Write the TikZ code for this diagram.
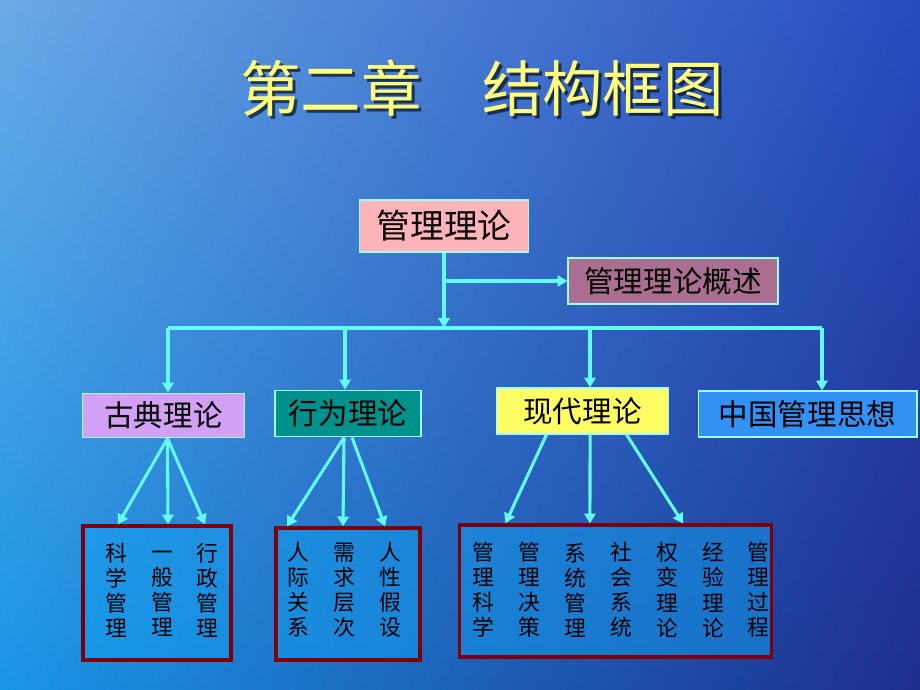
\documentclass[tikz,border=0pt]{standalone}
\usepackage{fontspec}
\newfontfamily\cjk{Noto Sans CJK SC}
\usetikzlibrary{arrows.meta}
\usetikzlibrary{calc}
\usetikzlibrary{positioning}
\usetikzlibrary{shadings}
\usepackage{xcolor}

\definecolor{linkcyan}{RGB}{100,250,250}
\definecolor{groupred}{RGB}{125,0,10}
\definecolor{groupfill}{RGB}{20,160,240}
\definecolor{titleyellow}{RGB}{255,255,125}
\definecolor{rootpink}{RGB}{255,180,185}
\definecolor{overmauve}{RGB}{170,110,145}
\definecolor{classiclilac}{RGB}{210,160,245}
\definecolor{behavteal}{RGB}{0,145,140}
\definecolor{modernyellow}{RGB}{255,255,100}
\definecolor{chinablue}{RGB}{50,145,245}
\definecolor{bgul}{RGB}{105,170,230}
\definecolor{bgur}{RGB}{40,75,190}
\definecolor{bgll}{RGB}{25,150,230}
\definecolor{bglr}{RGB}{30,45,140}

\tikzset{
  theory/.style={draw=linkcyan!60!white, line width=0.8pt, text=black, inner sep=0pt,
    font=\cjk\fontsize{21}{25}\selectfont},
  link/.style={linkcyan, line width=2.2pt, -{Triangle[width=8pt,length=7pt]}},
  column/.style={align=center, inner sep=0pt, font=\cjk\fontsize{15.5}{17.8}\selectfont},
  group/.style={draw=groupred, line width=2.3pt, fill=groupfill, fill opacity=0.5},
}

\begin{document}
\begin{tikzpicture}[x=0.025cm,y=-0.025cm]
    \useasboundingbox (0,0) rectangle (920,690);
    \shade[upper left=bgul, upper right=bgur, lower left=bgll, lower right=bglr]
      (0,0) rectangle (920,690);

    % title
    \node[text=black, opacity=0.6, font=\cjk\fontsize{43}{50}\selectfont] at (485,91) {第二章　结构框图};
    \node[text=titleyellow, font=\cjk\fontsize{43}{50}\selectfont] (title) at (482,88) {第二章　结构框图};

    % theory boxes
    \node[theory, fill=rootpink, font=\cjk\fontsize{24}{28}\selectfont,
      minimum width=4.22cm, minimum height=1.3cm] (root) at (444,226) {管理理论};
    \node[theory, fill=overmauve, minimum width=5.25cm, minimum height=1.15cm] (over) at (673,281) {管理理论概述};
    \node[theory, fill=classiclilac, minimum width=4.07cm, minimum height=1.12cm] (classic) at (163.5,415.5) {古典理论};
    \node[theory, fill=behavteal, minimum width=3.65cm, minimum height=1.17cm] (behav) at (348,413.5) {行为理论};
    \node[theory, fill=modernyellow, minimum width=4.32cm, minimum height=1.15cm] (modern) at (582.5,411) {现代理论};
    \node[theory, fill=chinablue, minimum width=5.47cm, minimum height=1.15cm] (china) at (807.5,414) {中国管理思想};

    % lower groups
    \node[group, minimum width=3.7cm, minimum height=3.35cm] (g1) at (157,593) {};
    \node[group, minimum width=3.6cm, minimum height=3.3cm] (g2) at (348,594) {};
    \node[group, minimum width=7.78cm, minimum height=3.3cm] (g3) at (615.5,591) {};

    \node[column] (c11) at (116,590) {科\\学\\管\\理};
    \node[column] (c12) at (162,590) {\vphantom{理}一\\般\\管\\理};
    \node[column] (c13) at (207,590) {行\\政\\管\\理};

    \node[column] (c21) at (298,590) {人\\际\\关\\系};
    \node[column] (c22) at (344,590) {需\\求\\层\\次};
    \node[column] (c23) at (390,590) {人\\性\\假\\设};

    \node[column] (c31) at (483,590) {管\\理\\科\\学};
    \node[column] (c32) at (529,590) {管\\理\\决\\策};
    \node[column] (c33) at (575,590) {系\\统\\管\\理};
    \node[column] (c34) at (621,590) {社\\会\\系\\统};
    \node[column] (c35) at (667,590) {权\\变\\理\\论};
    \node[column] (c36) at (713,590) {经\\验\\理\\论};
    \node[column] (c37) at (758,590) {管\\理\\过\\程};

    % connectors
    \coordinate (hub) at (444,328);
    \coordinate (fork) at (root.south |- over.west);
    \coordinate (b1) at (168,328);
    \coordinate (b2) at (345,328);
    \coordinate (b3) at (590,328);
    \coordinate (b4) at (822,328);
    \draw[link] (root.south) -- (hub);
    \draw[link] (fork) -- (over.west);
    \draw[linkcyan, line width=2.2pt] (b1) -- (b4);
    \draw[link] (b1) -- (b1 |- classic.north);
    \draw[link] (b2) -- (b2 |- behav.north);
    \draw[link] (b3) -- (b3 |- modern.north);
    \draw[link] (b4) -- (b4 |- china.north);

    \draw[link] ([xshift=0.1cm]classic.south) -- ([xshift=-0.975cm]g1.north);
    \draw[link] ([xshift=0.1cm]classic.south) -- ([xshift=0.275cm]g1.north);
    \draw[link] ([xshift=0.1cm]classic.south) -- ([xshift=1.2cm]g1.north);

    \draw[link] ([xshift=-0.1cm]behav.south) -- ([xshift=-1.525cm]g2.north);
    \draw[link] ([xshift=-0.1cm]behav.south) -- ([xshift=-0.125cm]g2.north);
    \draw[link] ([xshift=0.1cm]behav.south) -- ([xshift=0.925cm]g2.north);

    \draw[link] ([xshift=-0.9cm]modern.south) -- ([xshift=-2.75cm]g3.north);
    \draw[link] ([xshift=0.19cm]modern.south) -- ([xshift=-0.64cm]g3.north);
    \draw[link] ([xshift=1.1cm]modern.south) -- ([xshift=1.69cm]g3.north);
\end{tikzpicture}
\end{document}
